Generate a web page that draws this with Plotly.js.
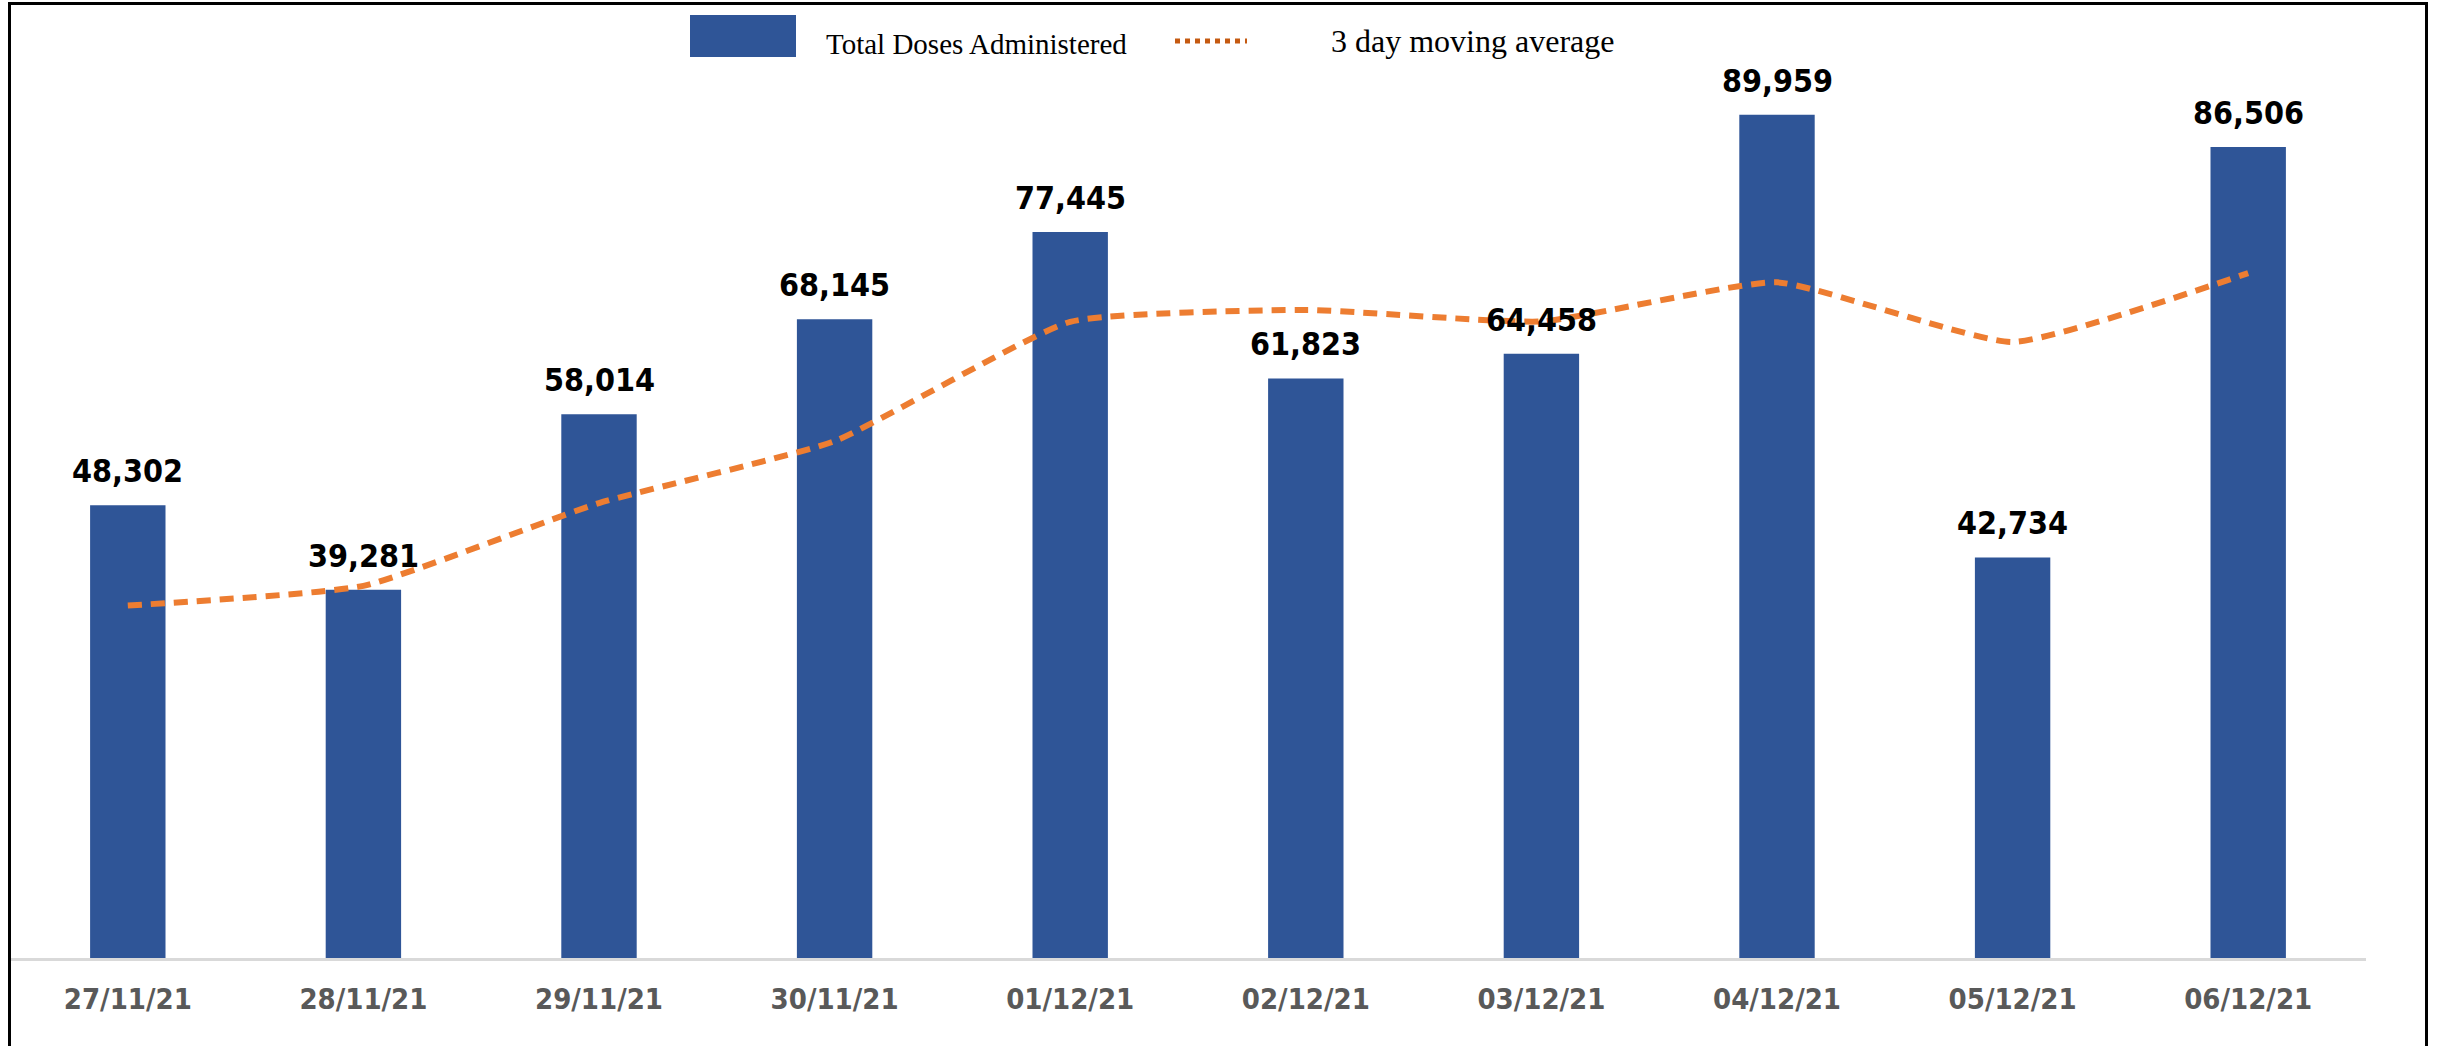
<!DOCTYPE html>
<html>
<head>
<meta charset="utf-8">
<script src="https://cdn.plot.ly/plotly-3.0.1.min.js"></script>
<style>
html,body{margin:0;padding:0;background:#fff;}
#chart{width:2440px;height:1046px;}
</style>
</head>
<body>
<div id="chart"></div>
<script>
// ---- data ----
const dates = ['27/11/21','28/11/21','29/11/21','30/11/21','01/12/21','02/12/21','03/12/21','04/12/21','05/12/21','06/12/21'];
const totalDoses = [48302, 39281, 58014, 68145, 77445, 61823, 64458, 89959, 42734, 86506];
const movingAvg = [37600, 39700, 48532, 55147, 67868, 69138, 67909, 72080, 65717, 73066];
const seriesNames = ['Total Doses Administered', '3 day moving average'];

// ---- layout geometry ----
const W = 2440, H = 1046;
const M = {l: 10, r: 74, t: 60, b: 88};
const PW = W - M.l - M.r, PH = H - M.t - M.b;
const px = x => (x - M.l) / PW;          // pixel -> paper x
const py = y => (H - M.b - y) / PH;      // pixel -> paper y

const labelFont = "'DejaVu Sans Condensed', Lato, sans-serif";
const serif = "'Liberation Serif', 'Times New Roman', serif";

const traces = [
  {
    type: 'bar',
    x: dates,
    y: totalDoses,
    name: seriesNames[0],
    marker: {color: '#2F5597'},
    showlegend: false,
    hoverinfo: 'x+y'
  },
  {
    type: 'scatter',
    mode: 'lines',
    x: dates,
    y: movingAvg,
    name: seriesNames[1],
    line: {color: '#ED7D31', width: 6, dash: '14px,9px', shape: 'spline', smoothing: 0.45},
    showlegend: false
  }
];

// value labels above the bars, placed in data coordinates
const valueLabels = dates.map((d, i) => ({
  xref: 'x', yref: 'y', x: d, y: totalDoses[i],
  xanchor: 'center', yanchor: 'bottom', yshift: 13,
  text: totalDoses[i].toLocaleString('en-US'),
  showarrow: false,
  font: {family: labelFont, size: 32, color: '#000000', weight: 'bold'}
}));

const layout = {
  width: W, height: H,
  margin: M,
  paper_bgcolor: '#ffffff',
  plot_bgcolor: '#ffffff',
  bargap: 0.68,
  showlegend: false,
  xaxis: {
    type: 'category',
    range: [-0.5, 9.5],
    showline: true, linecolor: '#D9D9D9', linewidth: 3,
    showgrid: false, zeroline: false, ticks: '',
    ticklabelstandoff: 13,
    tickfont: {family: labelFont, size: 29, color: '#595959', weight: 'bold'}
  },
  yaxis: {
    range: [0, 95800],
    visible: false, showgrid: false, zeroline: false
  },
  shapes: [
    // outer frame
    {type: 'rect', xref: 'paper', yref: 'paper',
     x0: px(9.5), x1: px(2426.5), y0: py(1060), y1: py(3.5),
     line: {color: '#000000', width: 3}, fillcolor: 'rgba(0,0,0,0)'},
    // legend swatch (bar)
    {type: 'rect', xref: 'paper', yref: 'paper',
     x0: px(690), x1: px(796), y0: py(57), y1: py(15),
     line: {width: 0}, fillcolor: '#2F5597'},
    // legend swatch (line)
    {type: 'line', xref: 'paper', yref: 'paper',
     x0: px(1175), x1: px(1247), y0: py(41), y1: py(41),
     line: {color: '#C55A11', width: 5, dash: 'dot'}}
  ],
  annotations: [
    {xref: 'paper', yref: 'paper', x: px(824), y: py(44), xanchor: 'left', yanchor: 'middle',
     text: seriesNames[0], showarrow: false, font: {family: serif, size: 29, color: '#000000'}},
    {xref: 'paper', yref: 'paper', x: px(1329), y: py(41), xanchor: 'left', yanchor: 'middle',
     text: seriesNames[1], showarrow: false, font: {family: serif, size: 32, color: '#000000'}}
  ].concat(valueLabels)
};

Plotly.newPlot('chart', traces, layout, {displayModeBar: false, staticPlot: true});
</script>
</body>
</html>
